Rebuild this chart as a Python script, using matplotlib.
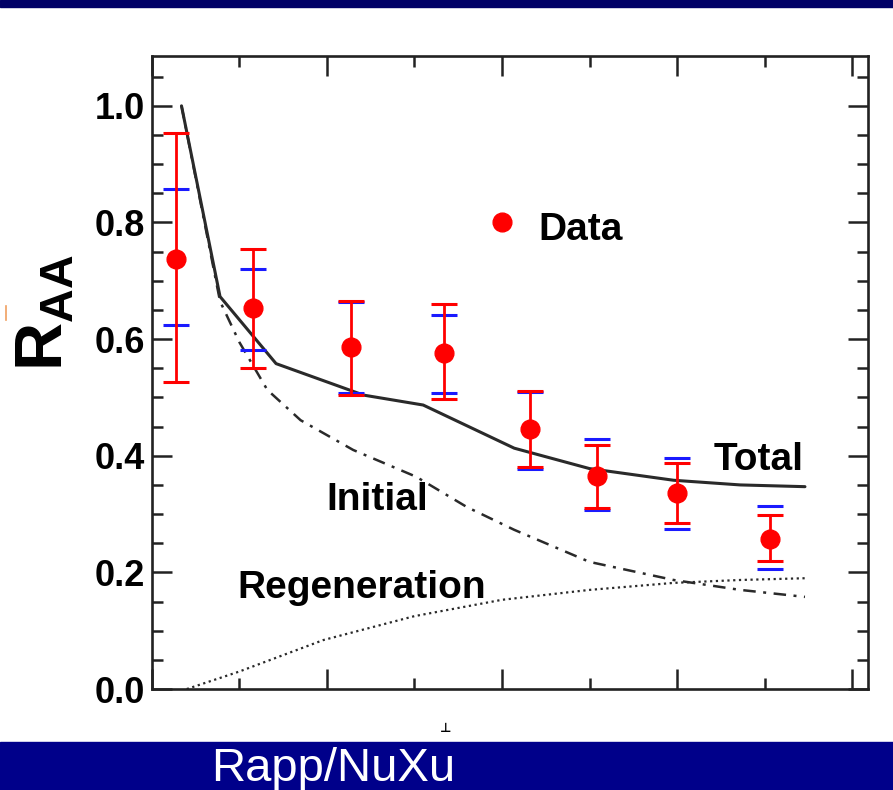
import matplotlib
matplotlib.use("Agg")
import numpy as np
import matplotlib.pyplot as plt
from matplotlib.ticker import MultipleLocator, NullFormatter
from matplotlib.lines import Line2D
from matplotlib.patches import Rectangle

# J/psi R_AA vs Npart, data with stat (red) and syst (blue) bars
npart = [14, 58, 114, 167, 216, 254, 300, 353]
raa = [0.738, 0.653, 0.586, 0.577, 0.446, 0.366, 0.336, 0.258]
stat_hi = [0.954, 0.754, 0.665, 0.660, 0.511, 0.418, 0.387, 0.298]
stat_lo = [0.526, 0.550, 0.504, 0.498, 0.380, 0.310, 0.284, 0.219]
syst_hi = [0.857, 0.721, 0.664, 0.642, 0.510, 0.428, 0.396, 0.313]
syst_lo = [0.624, 0.582, 0.507, 0.507, 0.378, 0.307, 0.274, 0.205]

# model curves (Rapp et al.)
total_x = [17, 39, 71, 121, 155, 207, 250, 298, 336, 373]
total_y = [1.0, 0.673, 0.558, 0.504, 0.487, 0.413, 0.378, 0.358, 0.350, 0.347]
initial_x = [17, 39, 50, 66, 85, 115, 151, 180, 207, 250, 298, 336, 373]
initial_y = [1.0, 0.665, 0.595, 0.513, 0.461, 0.410, 0.364, 0.312, 0.273, 0.218, 0.187, 0.170, 0.158]
regen_x = [20, 50, 98, 150, 200, 250, 298, 336, 373]
regen_y = [0.0, 0.030, 0.084, 0.125, 0.153, 0.170, 0.182, 0.187, 0.190]

plt.rcParams["font.family"] = ["Liberation Sans", "DejaVu Sans"]
plt.rcParams["mathtext.fontset"] = "custom"
plt.rcParams["mathtext.rm"] = "Liberation Sans"
plt.rcParams["mathtext.bf"] = "Liberation Sans:bold"

fig = plt.figure(figsize=(8.93, 7.90), dpi=100)
ax = fig.add_axes([0.1699, 0.1278, 0.8021, 0.8017])

# navy slide bands
fig.patches.append(Rectangle((0, 1 - 7 / 790), 1, 7 / 790, transform=fig.transFigure,
                             color="#000066", zorder=0))
fig.patches.append(Rectangle((0, 0), 1, 48 / 790, transform=fig.transFigure,
                             color="#00008a", zorder=0))
fig.text(211 / 893, 21 / 790, "Rapp/NuXu", color="white", fontsize=34,
         ha="left", va="center")

ax.plot(total_x, total_y, color="#2a2a2a", lw=2.2, solid_capstyle="round", zorder=2)
ax.plot(initial_x, initial_y, color="#2a2a2a", lw=1.8, dashes=(5, 3, 1.2, 3), zorder=2)
ax.plot(regen_x, regen_y, color="#2a2a2a", lw=1.6, dashes=(1, 1.6), zorder=2)

y = np.array(raa)
syst_err = [y - np.array(syst_lo), np.array(syst_hi) - y]
stat_err = [y - np.array(stat_lo), np.array(stat_hi) - y]
ax.errorbar(npart, raa, yerr=syst_err, fmt="none", ecolor="#1a1aff", elinewidth=0,
            capsize=9.7, capthick=2.2, zorder=3)
ax.errorbar(npart, raa, yerr=stat_err, fmt="o", color="red", ms=13.5, ecolor="red",
            elinewidth=2, capsize=9.7, capthick=2.2, zorder=4)

# legend entry and curve labels
ax.plot([200], [0.801], "o", color="red", ms=13.5, zorder=4)
ax.text(221, 0.770, "Data", fontsize=28, fontweight="bold", va="baseline")
ax.text(321, 0.375, "Total", fontsize=28, fontweight="bold", va="baseline")
ax.text(100, 0.307, "Initial", fontsize=28, fontweight="bold", va="baseline")
ax.text(49, 0.156, "Regeneration", fontsize=28, fontweight="bold", va="baseline")

ax.set_xlim(0, 409)
ax.set_ylim(0, 1.086)
ax.xaxis.set_major_locator(MultipleLocator(100))
ax.xaxis.set_minor_locator(MultipleLocator(50))
ax.yaxis.set_major_locator(MultipleLocator(0.2))
ax.yaxis.set_minor_locator(MultipleLocator(0.05))
ax.xaxis.set_major_formatter(NullFormatter())
ax.yaxis.set_major_formatter(plt.FuncFormatter(lambda v, p: f"{v:.1f}"))
ax.tick_params(which="both", direction="in", top=True, right=True, width=1.8, color="#222222")
ax.tick_params(which="major", length=14.5, pad=5)
ax.tick_params(which="minor", length=8)
ax.tick_params(axis="y", labelsize=26)
for lab in ax.get_yticklabels():
    lab.set_fontweight("bold")
for sp in ax.spines.values():
    sp.set_linewidth(1.9)
    sp.set_color("#222222")

fig.text(46 / 893, 1 - 313 / 790, r"$\mathbf{R}_{\mathbf{AA}}$", fontsize=48,
         rotation=90, ha="center", va="center")

# small stray marks
fig.add_artist(Line2D([6 / 893, 6 / 893], [1 - 306 / 790, 1 - 320 / 790],
                      color="#f0a060", lw=1.2, transform=fig.transFigure))
fig.text(446 / 893, 1 - 729 / 790, "\u22a5", fontsize=9, fontweight="bold",
         ha="center", va="center", family="DejaVu Sans")

fig.savefig("out.png", dpi=100)
